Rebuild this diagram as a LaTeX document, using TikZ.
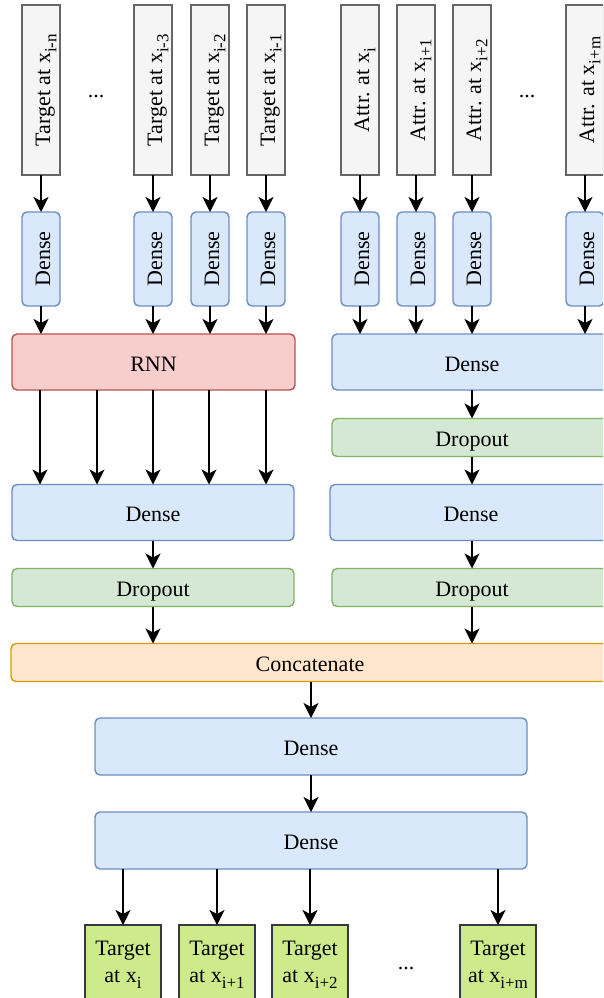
\documentclass[tikz,border=0pt]{standalone}
\usepackage{fontspec}
\setmainfont{Liberation Serif}
\usetikzlibrary{arrows.meta}

\definecolor{grayfill}{HTML}{F5F5F5}
\definecolor{grayline}{HTML}{666666}
\definecolor{bluefill}{HTML}{DAE8FC}
\definecolor{blueline}{HTML}{6C8EBF}
\definecolor{redfill}{HTML}{F8CECC}
\definecolor{redline}{HTML}{B85450}
\definecolor{greenfill}{HTML}{D5E8D4}
\definecolor{greenline}{HTML}{82B366}
\definecolor{orangefill}{HTML}{FFE6CC}
\definecolor{orangeline}{HTML}{D79B00}
\definecolor{limefill}{HTML}{CDEB8B}
\definecolor{limeline}{HTML}{36393D}

% subscript as set by the drawing tool: smaller and lowered
\newcommand{\sbs}[1]{\raisebox{-0.28em}{\fontsize{17}{17}\selectfont #1}}

\tikzset{
  box/.style={draw, line width=1.4pt, inner sep=0pt, outer sep=0pt,
    font=\fontsize{22}{27}\selectfont, align=center},
  oneline/.style={text height=19pt, text depth=0.6pt},
  rbox/.style={box, oneline, rounded corners=5pt},
  graybox/.style={draw=grayline, fill=grayfill},
  bluebox/.style={draw=blueline, fill=bluefill},
  redbox/.style={draw=redline, fill=redfill},
  greenbox/.style={draw=greenline, fill=greenfill},
  orangebox/.style={draw=orangeline, fill=orangefill},
  limebox/.style={draw=limeline, fill=limefill},
  inbox/.style={box, oneline, graybox, rotate=90, minimum width=170pt, minimum height=38pt},
  vdense/.style={rbox, bluebox, rotate=90, minimum width=94pt, minimum height=38pt},
  thick layer/.style={rbox, minimum height=56pt},
  thin layer/.style={rbox, minimum height=38pt},
  outbox/.style={box, limebox, minimum width=76pt, minimum height=80pt},
  dots/.style={inner sep=0pt, font=\fontsize{22}{27}\selectfont},
  arr/.style={line width=1.8pt, -{Stealth[length=15pt,width=15pt,inset=4pt]}},
}

\begin{document}
\begin{tikzpicture}[x=1pt,y=-1pt]
\clip (0,0) rectangle (603,998);

% input sequences
\node[inbox] (t1) at (41,90)  {Target at x\sbs{i-n}};
\node[inbox] (t2) at (153,90) {Target at x\sbs{i-3}};
\node[inbox] (t3) at (210,90) {Target at x\sbs{i-2}};
\node[inbox] (t4) at (266,90) {Target at x\sbs{i-1}};
\node[inbox] (a1) at (360,90) {Attr. at x\sbs{i}};
\node[inbox] (a2) at (416,90) {Attr. at x\sbs{i+1}};
\node[inbox] (a3) at (472,90) {Attr. at x\sbs{i+2}};
\node[inbox] (a4) at (585,90) {Attr. at x\sbs{i+m}};
\node[dots] (dl) at (96,97)  {...};
\node[dots] (dr) at (527,97) {...};

% per-step dense layers
\node[vdense] (d1) at (41,259)  {Dense};
\node[vdense] (d2) at (153,259) {Dense};
\node[vdense] (d3) at (210,259) {Dense};
\node[vdense] (d4) at (266,259) {Dense};
\node[vdense] (e1) at (360,259) {Dense};
\node[vdense] (e2) at (416,259) {Dense};
\node[vdense] (e3) at (472,259) {Dense};
\node[vdense] (e4) at (585,259) {Dense};

% left branch
\node[thick layer, redbox, minimum width=283pt]  (rnn) at (153.5,362)  {RNN};
\node[thick layer, bluebox, minimum width=282pt] (ld)  at (153,512.5)  {Dense};
\node[thin layer, greenbox, minimum width=282pt] (lo)  at (153,587.5)  {Dropout};

% right branch
\node[thick layer, bluebox, minimum width=280pt] (rd1) at (472,362)    {Dense};
\node[thin layer, greenbox, minimum width=280pt] (ro1) at (472,437.5)  {Dropout};
\node[thick layer, bluebox, minimum width=282pt] (rd2) at (471,512.5)  {Dense};
\node[thin layer, greenbox, minimum width=280pt] (ro2) at (472,587.5)  {Dropout};

% merge and head
\node[thin layer, orangebox, minimum width=598pt] (cat) at (310,662.5) {Concatenate};
\node[thick layer, bluebox, minimum width=432pt, minimum height=57pt] (h1) at (311,746.5) {Dense};
\node[thick layer, bluebox, minimum width=432pt, minimum height=57pt] (h2) at (311,840.5) {Dense};

% outputs
\node[outbox] (o1) at (123,965) {Target\\at x\sbs{i}};
\node[outbox] (o2) at (217,965) {Target\\at x\sbs{i+1}};
\node[outbox] (o3) at (310,965) {Target\\at x\sbs{i+2}};
\node[outbox] (o4) at (498,965) {Target\\at x\sbs{i+m}};
\node[dots] (db) at (406,968) {...};

% inputs into dense layers
\foreach \a/\b in {t1/d1,t2/d2,t3/d3,t4/d4,a1/e1,a2/e2,a3/e3,a4/e4}
  \draw[arr] (\a) -- (\b);
\foreach \a in {d1,d2,d3,d4}
  \draw[arr] (\a) -- (\a |- rnn.north);
\foreach \a in {e1,e2,e3,e4}
  \draw[arr] (\a) -- (\a |- rd1.north);

% recurrent outputs
\coordinate (m1) at (40,0);
\coordinate (m2) at (97,0);
\coordinate (m3) at (153,0);
\coordinate (m4) at (209,0);
\coordinate (m5) at (266,0);
\foreach \m in {m1,m2,m3,m4,m5}
  \draw[arr] (rnn.south -| \m) -- (ld.north -| \m);

% branch chains
\draw[arr] (ld) -- (lo);
\draw[arr] (lo) -- (lo |- cat.north);
\draw[arr] (rd1) -- (ro1);
\draw[arr] (ro1) -- (ro1 |- rd2.north);
\draw[arr] (rd2.south -| ro1) -- (ro2);
\draw[arr] (ro2) -- (ro2 |- cat.north);

% head
\draw[arr] (cat.south -| h1) -- (h1);
\draw[arr] (h1) -- (h2);
\foreach \o in {o1,o2,o3,o4}
  \draw[arr] (h2.south -| \o) -- (\o);
\end{tikzpicture}
\end{document}
